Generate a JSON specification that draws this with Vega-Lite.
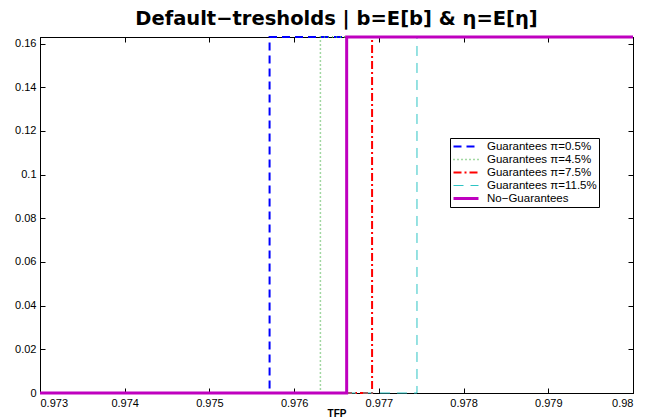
{
  "$schema": "https://vega.github.io/schema/vega-lite/v6.json",
  "width": 593,
  "height": 356,
  "autosize": {"type": "none"},
  "padding": {"left": 40, "top": 37, "right": 13, "bottom": 27},
  "background": "white",
  "title": {
    "text": "Default−tresholds | b=E[b] & η=E[η]",
    "font": "DejaVu Sans",
    "fontSize": 19.5,
    "fontWeight": "bold",
    "color": "black",
    "anchor": "middle",
    "baseline": "alphabetic",
    "offset": -13
  },
  "config": {
    "view": {"stroke": "black", "strokeWidth": 1},
    "font": "Liberation Sans",
    "axis": {
      "grid": false,
      "domainColor": "black",
      "tickColor": "black",
      "labelColor": "black",
      "titleColor": "black",
      "labelFont": "Liberation Sans",
      "labelFontSize": 11,
      "tickSize": -5,
      "labelPadding": 10
    }
  },
  "data": {
    "values": [
      {"series": "Guarantees π=0.5%", "x": 0.973, "y": 0, "o": 1},
      {"series": "Guarantees π=0.5%", "x": 0.97571, "y": 0, "o": 2},
      {"series": "Guarantees π=0.5%", "x": 0.97571, "y": 0.163, "o": 3},
      {"series": "Guarantees π=0.5%", "x": 0.98, "y": 0.163, "o": 4},
      {"series": "Guarantees π=4.5%", "x": 0.973, "y": 0, "o": 1},
      {"series": "Guarantees π=4.5%", "x": 0.97631, "y": 0, "o": 2},
      {"series": "Guarantees π=4.5%", "x": 0.97631, "y": 0.163, "o": 3},
      {"series": "Guarantees π=4.5%", "x": 0.98, "y": 0.163, "o": 4},
      {"series": "Guarantees π=7.5%", "x": 0.973, "y": 0, "o": 1},
      {"series": "Guarantees π=7.5%", "x": 0.97692, "y": 0, "o": 2},
      {"series": "Guarantees π=7.5%", "x": 0.97692, "y": 0.163, "o": 3},
      {"series": "Guarantees π=7.5%", "x": 0.98, "y": 0.163, "o": 4},
      {"series": "Guarantees π=11.5%", "x": 0.973, "y": 0, "o": 1},
      {"series": "Guarantees π=11.5%", "x": 0.97745, "y": 0, "o": 2},
      {"series": "Guarantees π=11.5%", "x": 0.97745, "y": 0.163, "o": 3},
      {"series": "Guarantees π=11.5%", "x": 0.98, "y": 0.163, "o": 4},
      {"series": "No−Guarantees", "x": 0.973, "y": 0, "o": 1},
      {"series": "No−Guarantees", "x": 0.97662, "y": 0, "o": 2},
      {"series": "No−Guarantees", "x": 0.97662, "y": 0.163, "o": 3},
      {"series": "No−Guarantees", "x": 0.98, "y": 0.163, "o": 4}
    ]
  },
  "layer": [
    {
      "mark": {"type": "line", "clip": false},
      "encoding": {
        "x": {
          "field": "x", "type": "quantitative",
          "scale": {"domain": [0.973, 0.98], "nice": false, "zero": false},
          "axis": {
            "values": [0.973, 0.974, 0.975, 0.976, 0.977, 0.978, 0.979, 0.98],
            "format": "~g",
            "title": "TFP",
            "titleFontSize": 10,
            "titleFontWeight": "bold",
            "titlePadding": 0,
            "labelPadding": 9
          }
        },
        "y": {
          "field": "y", "type": "quantitative",
          "scale": {"domain": [0, 0.163], "nice": false, "zero": true},
          "axis": {
            "values": [0, 0.02, 0.04, 0.06, 0.08, 0.1, 0.12, 0.14, 0.16],
            "format": "~g",
            "title": null,
            "labelPadding": 9
          }
        },
        "order": {"field": "o", "type": "quantitative"},
        "color": {
          "field": "series", "type": "nominal",
          "scale": {
            "domain": ["Guarantees π=0.5%", "Guarantees π=4.5%", "Guarantees π=7.5%", "Guarantees π=11.5%", "No−Guarantees"],
            "range": ["#0000FF", "#44B044", "#FF0000", "#2EC4C4", "#BF00BF"]
          },
          "legend": {
            "orient": "none",
            "legendX": 410,
            "legendY": 101,
            "title": null,
            "strokeColor": "black",
            "fillColor": "white",
            "padding": 2,
            "symbolType": "stroke",
            "symbolSize": 625,
            "labelFontSize": 11.5,
            "labelColor": "black",
            "labelLimit": 0,
            "labelOffset": 7,
            "clipHeight": 13,
            "rowPadding": 0
          }
        },
        "strokeDash": {
          "field": "series", "type": "nominal",
          "scale": {
            "domain": ["Guarantees π=0.5%", "Guarantees π=4.5%", "Guarantees π=7.5%", "Guarantees π=11.5%", "No−Guarantees"],
            "range": [[8, 5], [1, 3], [8, 3, 2, 3], [10, 7], [1, 0]]
          },
          "legend": null
        },
        "strokeWidth": {
          "field": "series", "type": "nominal",
          "scale": {
            "type": "ordinal",
            "domain": ["Guarantees π=0.5%", "Guarantees π=4.5%", "Guarantees π=7.5%", "Guarantees π=11.5%", "No−Guarantees"],
            "range": [2, 1.5, 2, 1, 3]
          },
          "legend": null
        }
      }
    },
    {
      "mark": {"type": "line", "opacity": 0},
      "encoding": {
        "x": {
          "field": "x", "type": "quantitative",
          "axis": {
            "orient": "top",
            "values": [0.973, 0.974, 0.975, 0.976, 0.977, 0.978, 0.979, 0.98],
            "labels": false,
            "title": null
          }
        },
        "y": {
          "field": "y", "type": "quantitative",
          "axis": {
            "orient": "right",
            "values": [0, 0.02, 0.04, 0.06, 0.08, 0.1, 0.12, 0.14, 0.16],
            "labels": false,
            "title": null
          }
        },
        "detail": {"field": "series", "type": "nominal"},
        "order": {"field": "o", "type": "quantitative"}
      }
    }
  ],
  "resolve": {"axis": {"x": "independent", "y": "independent"}}
}
